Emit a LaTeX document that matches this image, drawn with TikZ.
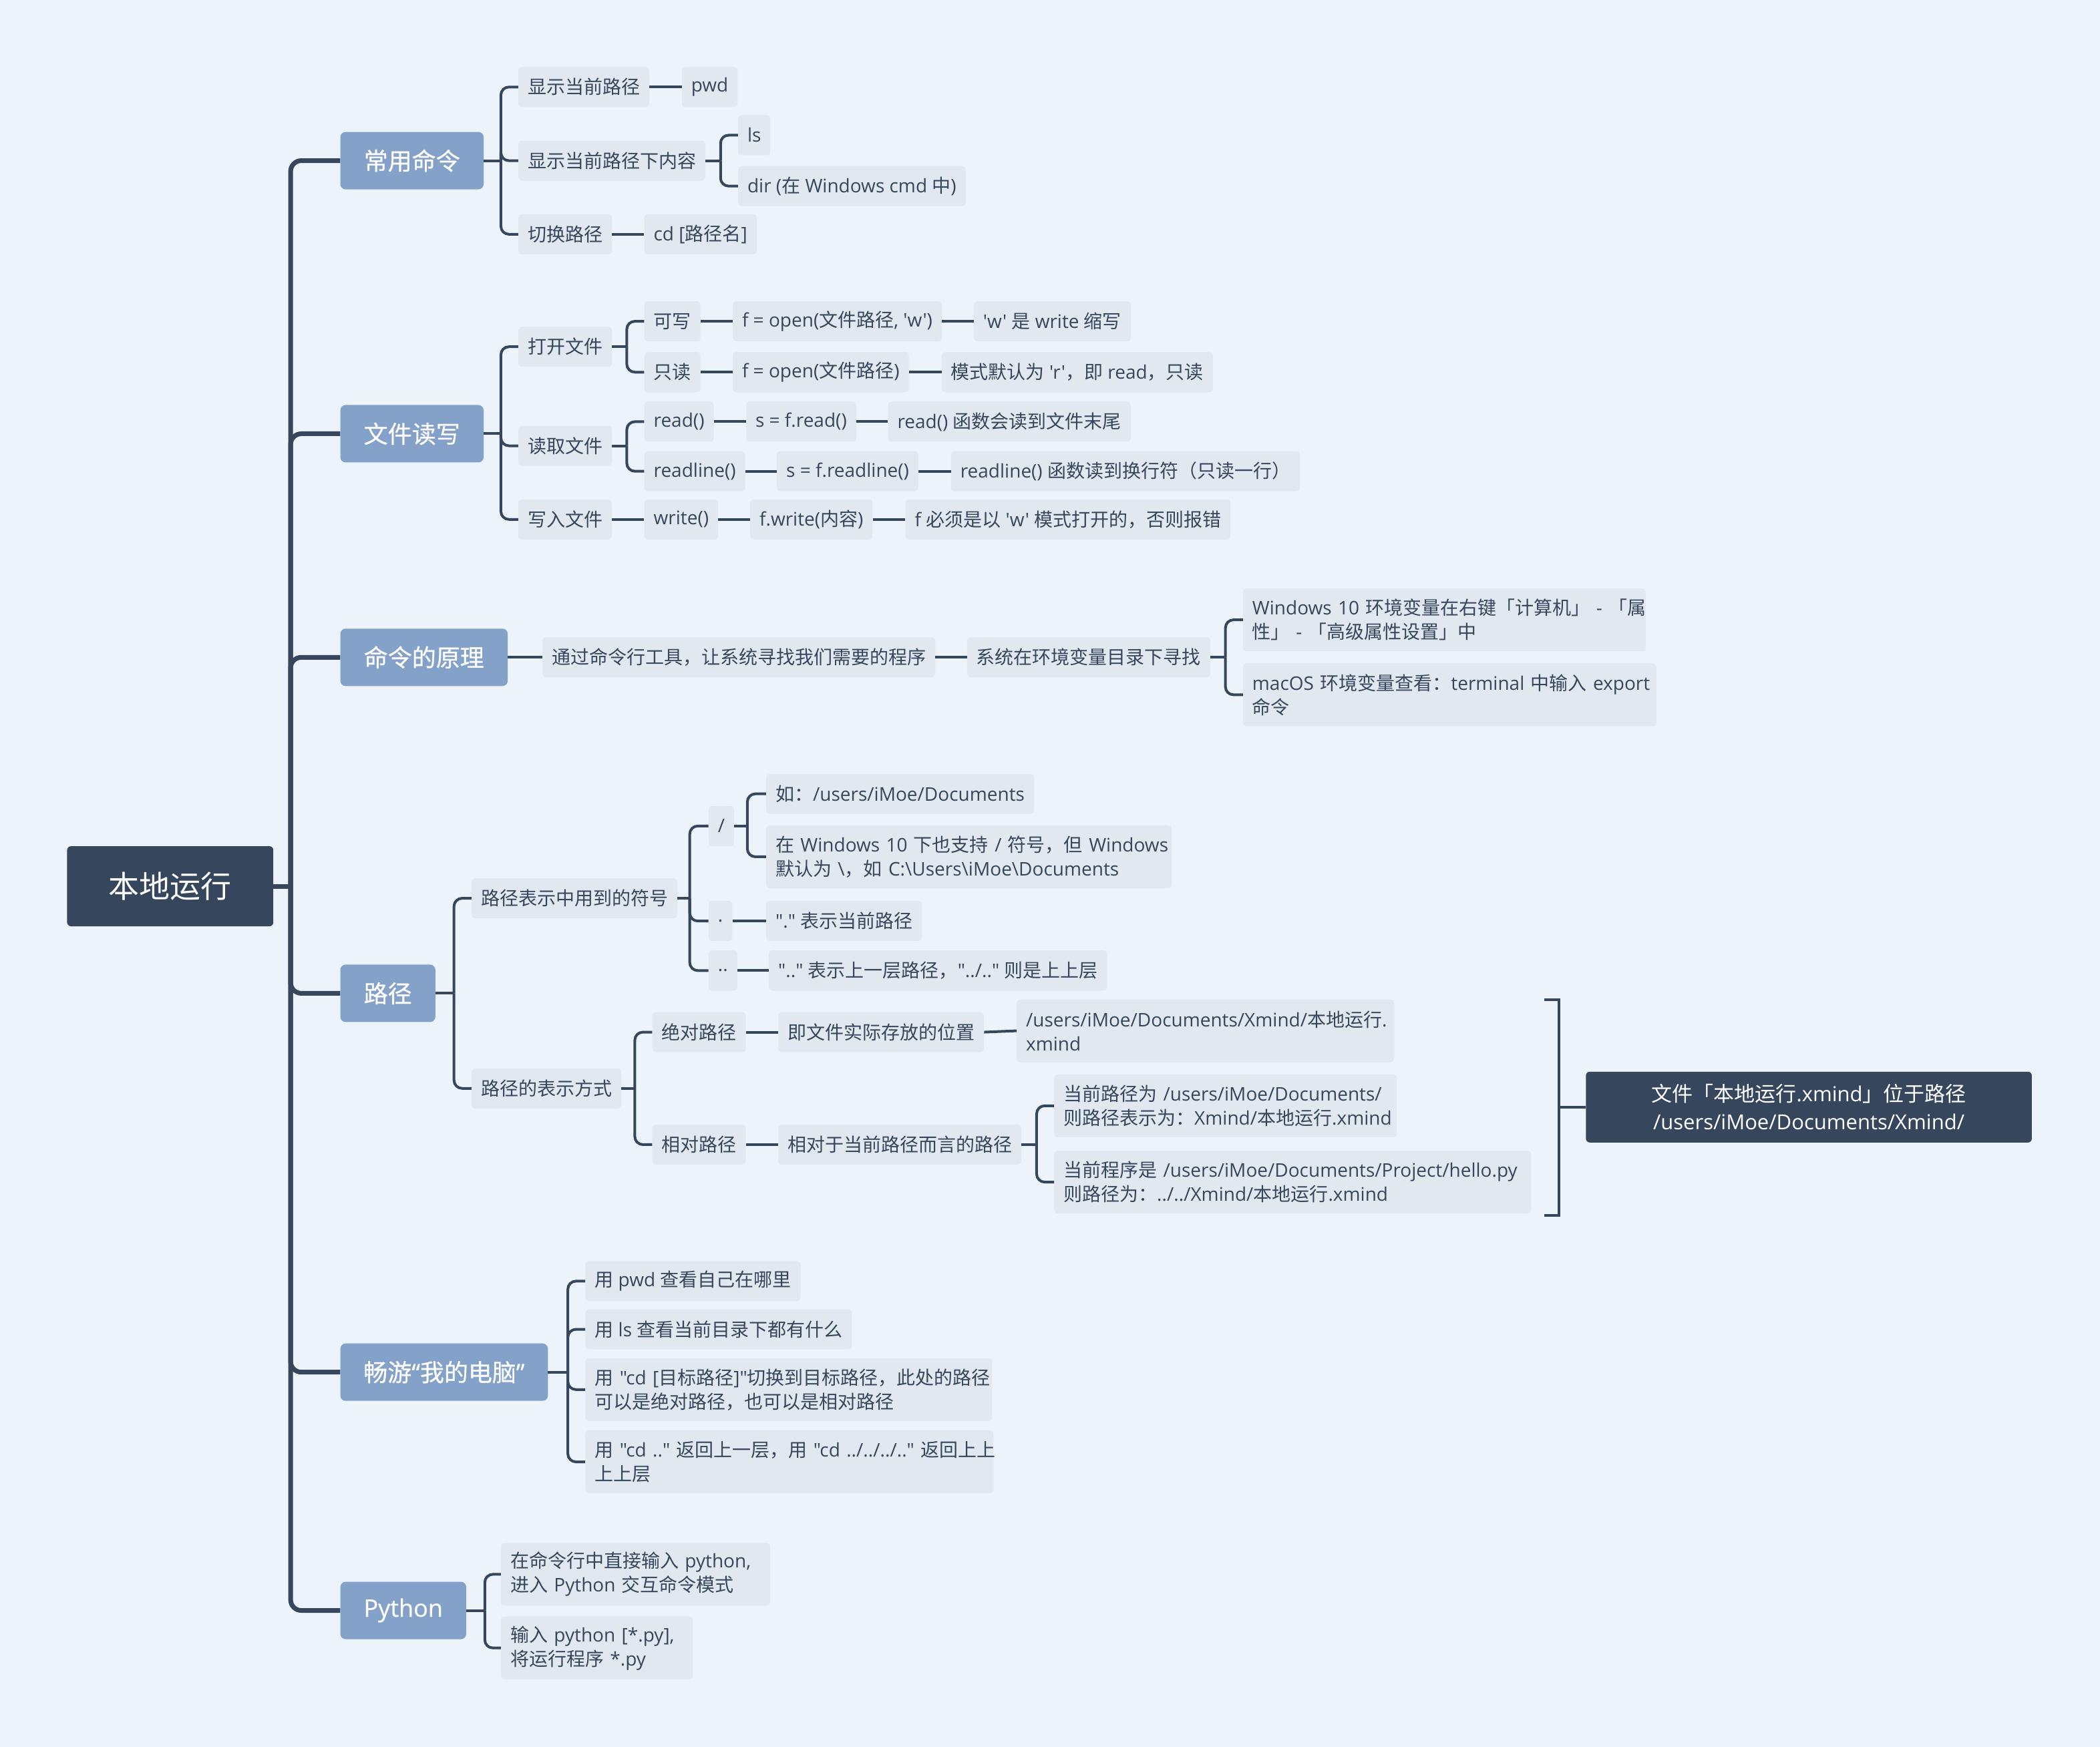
\documentclass[tikz,border=0pt]{standalone}
\usepackage{fontspec}
\newfontfamily\latR{Open Sans}
\newfontfamily\cjkR{Noto Sans CJK SC}
\newfontfamily\latB[FakeBold=0.5]{Open Sans}
\newfontfamily\cjkB[FakeBold=0.5]{Noto Sans CJK SC}
\def\tolat{\latR}
\def\tocjk{\cjkR}
% switch between the Latin and the CJK face automatically
\XeTeXinterchartokenstate=1
\newXeTeXintercharclass\cjkcls
\newcount\cjkcnt
\cjkcnt="3000
\loop\XeTeXcharclass\cjkcnt=\cjkcls
  \ifnum\cjkcnt<"9FFF \advance\cjkcnt by 1 \repeat
\cjkcnt="FF00
\loop\XeTeXcharclass\cjkcnt=\cjkcls
  \ifnum\cjkcnt<"FFEF \advance\cjkcnt by 1 \repeat
\XeTeXinterchartoks 0 \cjkcls = {\tocjk}
\XeTeXinterchartoks 4095 \cjkcls = {\tocjk}
\XeTeXinterchartoks \cjkcls 0 = {\tolat}
\XeTeXinterchartoks \cjkcls 4095 = {\tolat}
\definecolor{bg}{HTML}{ECF3FA}
\definecolor{ink}{HTML}{36465D}
\definecolor{leaf}{HTML}{E1E8F0}
\definecolor{topic}{HTML}{84A2C9}
% fan-out from a parent through a vertical bus to its children
\newcommand\branchfan[3]{%
  \draw[link] (#1.east) -- (#1.east -| #2);
  \foreach \c in {#3} \draw[link] (#1.east -| #2) |- (\c.west);}
\begin{document}
\begin{tikzpicture}[x=2.0051pt,y=-2.0046pt,
  bw/.style={minimum width=#1*2.0051pt},
  leafbox/.style={fill=leaf, rounded corners=5pt, text=ink,
    font=\def\tolat{\latR}\def\tocjk{\cjkR}\latR\fontsize{28}{36}\selectfont,
    minimum height=60pt, inner xsep=14pt, inner ysep=0pt, anchor=west},
  twoline/.style={leafbox, align=left, text width=#1, minimum height=94pt},
  topicbox/.style={fill=topic, rounded corners=8pt, text=white,
    font=\def\tolat{\latB}\def\tocjk{\cjkB}\latB\fontsize{36}{44}\selectfont,
    minimum height=86pt, inner sep=0pt, anchor=west},
  rootbox/.style={fill=ink, rounded corners=6pt, text=white,
    font=\def\tolat{\latR}\def\tocjk{\cjkR}\latR\fontsize{46}{54}\selectfont,
    minimum height=120pt, inner sep=0pt, anchor=west},
  sumbox/.style={fill=ink, rounded corners=6pt, text=white, align=center,
    font=\def\tolat{\latR}\def\tocjk{\cjkR}\latR\fontsize{31}{42}\selectfont,
    minimum height=106pt, inner sep=0pt, anchor=west},
  link/.style={draw=ink, line width=4pt, rounded corners=12pt},
  trunkline/.style={draw=ink, line width=7pt, rounded corners=16pt},
]
\fill[bg] (0,0) rectangle (1568,1305);
\useasboundingbox (0,0) rectangle (1568,1305);

% root and main topics
\node[rootbox, bw=154] (root) at (50,662) {本地运行};
\node[topicbox, bw=107] (m1) at (254,120) {常用命令};
\node[topicbox, bw=107] (m2) at (254,324) {文件读写};
\node[topicbox, bw=125] (m3) at (254,491) {命令的原理};
\node[topicbox, bw=71]  (m4) at (254,742) {路径};
\node[topicbox, bw=155] (m5) at (254,1025) {畅游“我的电脑”};
\node[topicbox, bw=94]  (m6) at (254,1203) {Python};

% bus positions
\coordinate (T) at (217,0);
\coordinate (B1) at (374,0);
\coordinate (B1b) at (538,0);
\coordinate (B2) at (374,0);
\coordinate (B2a) at (468,0);
\coordinate (B3) at (915,0);
\coordinate (B4) at (339,0);
\coordinate (B4a) at (515,0);
\coordinate (B4b) at (558,0);
\coordinate (B4c) at (474,0);
\coordinate (B4d) at (774,0);
\coordinate (B5) at (424,0);
\coordinate (B6) at (362,0);

% common commands
\node[leafbox, bw=95]  (a1)  at (387,65)  {显示当前路径};
\node[leafbox, bw=39]  (a1a) at (509,65)  {pwd};
\node[leafbox, bw=137] (a2)  at (387,120) {显示当前路径下内容};
\node[leafbox, bw=22]  (a2a) at (551,101) {ls};
\node[leafbox, bw=167] (a2b) at (551,139) {dir (在 Windows cmd 中)};
\node[leafbox, bw=68]  (a3)  at (387,175) {切换路径};
\node[leafbox, bw=81]  (a3a) at (481,175) {cd [路径名]};

% file reading and writing
\node[leafbox, bw=68]  (c1)   at (387,259) {打开文件};
\node[leafbox, bw=40]  (c1a)  at (481,240) {可写};
\node[leafbox, bw=153] (c1a1) at (547,240) {f = open(文件路径, 'w')};
\node[leafbox, bw=113] (c1a2) at (727,240) {'w' 是 write 缩写};
\node[leafbox, bw=40]  (c1b)  at (481,278) {只读};
\node[leafbox, bw=130] (c1b1) at (547,278) {f = open(文件路径)};
\node[leafbox, bw=199] (c1b2) at (703,278) {模式默认为 'r'，即 read，只读};
\node[leafbox, bw=68]  (c2)   at (387,333) {读取文件};
\node[leafbox, bw=49]  (c2a)  at (481,315) {read()};
\node[leafbox, bw=80]  (c2a1) at (557,315) {s = f.read()};
\node[leafbox, bw=179] (c2a2) at (663,315) {read() 函数会读到文件末尾};
\node[leafbox, bw=74]  (c2b)  at (481,352) {readline()};
\node[leafbox, bw=104] (c2b1) at (580,352) {s = f.readline()};
\node[leafbox, bw=258] (c2b2) at (710,352) {readline() 函数读到换行符（只读一行）};
\node[leafbox, bw=68]  (c3)   at (387,388) {写入文件};
\node[leafbox, bw=53]  (c3a)  at (481,388) {write()};
\node[leafbox, bw=89]  (c3b)  at (560,388) {f.write(内容)};
\node[leafbox, bw=239] (c3c)  at (676,388) {f 必须是以 'w' 模式打开的，否则报错};

% how commands work
\node[leafbox, bw=291] (d1) at (405,491) {通过命令行工具，让系统寻找我们需要的程序};
\node[leafbox, bw=179] (d2) at (722,491) {系统在环境变量目录下寻找};
\node[twoline=575pt] (d3) at (928,463) {\mbox{Windows 10 环境变量在右键「计算机」 - 「属}\\\mbox{性」 - 「高级属性设置」中}};
\node[twoline=591pt] (d4) at (928,519) {\mbox{macOS 环境变量查看：terminal 中输入 export}\\\mbox{命令}};

% paths
\node[leafbox, bw=150] (e1)   at (352,671) {路径表示中用到的符号};
\node[leafbox, bw=17]  (e1a)  at (529,617) {/};
\node[leafbox, bw=197] (e1a1) at (572,593) {如：/users/iMoe/Documents};
\node[twoline=579pt]   (e1a2) at (572,640) {\mbox{在 Windows 10 下也支持 / 符号，但 Windows}\\\mbox{默认为 \textbackslash{}，如 C:\textbackslash{}Users\textbackslash{}iMoe\textbackslash{}Documents}};
\node[leafbox, bw=17]  (e1b)  at (529,688) {.};
\node[leafbox, bw=112] (e1b1) at (572,688) {"." 表示当前路径};
\node[leafbox, bw=19]  (e1c)  at (529,725) {..};
\node[leafbox, bw=251] (e1c1) at (574,725) {".." 表示上一层路径，"../.." 则是上上层};
\node[leafbox, bw=108] (e2)   at (352,813) {路径的表示方式};
\node[leafbox, bw=68]  (e2a)  at (487,771) {绝对路径};
\node[leafbox, bw=152] (e2a1) at (581,771) {即文件实际存放的位置};
\node[twoline=537pt]   (e2a2) at (759,770) {\mbox{/users/iMoe/Documents/Xmind/本地运行.}\\\mbox{xmind}};
\node[leafbox, bw=68]  (e2b)  at (487,855) {相对路径};
\node[leafbox, bw=179] (e2b1) at (581,855) {相对于当前路径而言的路径};
\node[twoline=485pt]   (e2b2) at (787,826) {\mbox{当前路径为 /users/iMoe/Documents/}\\\mbox{则路径表示为：Xmind/本地运行.xmind}};
\node[twoline=686pt]   (e2b3) at (787,883) {\mbox{当前程序是 /users/iMoe/Documents/Project/hello.py}\\\mbox{则路径为：../../Xmind/本地运行.xmind}};
\node[sumbox, bw=333]  (sum)  at (1184,827) {文件「本地运行.xmind」位于路径\\/users/iMoe/Documents/Xmind/};

% touring the computer
\node[leafbox, bw=156] (f1) at (437,957)  {用 pwd 查看自己在哪里};
\node[leafbox, bw=195] (f2) at (437,993)  {用 ls 查看当前目录下都有什么};
\node[twoline=581pt]   (f3) at (437,1038) {\mbox{用 "cd [目标路径]"切换到目标路径，此处的路径}\\\mbox{可以是绝对路径，也可以是相对路径}};
\node[twoline=583pt]   (f4) at (437,1092) {\mbox{用 "cd .." 返回上一层，用 "cd ../../../.." 返回上上}\\\mbox{上上层}};

% python
\node[twoline=375pt] (g1) at (374,1176) {\mbox{在命令行中直接输入 python,}\\\mbox{进入 Python 交互命令模式}};
\node[twoline=259pt] (g2) at (374,1231) {\mbox{输入 python [*.py],}\\\mbox{将运行程序 *.py}};

% trunk
\draw[trunkline] (root.east) -- (root.east -| T);
\foreach \m in {m1,m2,m3,m4,m5,m6}
  \draw[trunkline] (root.east -| T) |- (\m.west);

% branch connectors
\branchfan{m1}{B1}{a1,a2,a3}
\draw[link] (a1.east) -- (a1a.west);
\branchfan{a2}{B1b}{a2a,a2b}
\draw[link] (a3.east) -- (a3a.west);

\branchfan{m2}{B2}{c1,c2,c3}
\branchfan{c1}{B2a}{c1a,c1b}
\draw[link] (c1a.east) -- (c1a1.west);
\draw[link] (c1a1.east) -- (c1a2.west);
\draw[link] (c1b.east) -- (c1b1.west);
\draw[link] (c1b1.east) -- (c1b2.west);
\branchfan{c2}{B2a}{c2a,c2b}
\draw[link] (c2a.east) -- (c2a1.west);
\draw[link] (c2a1.east) -- (c2a2.west);
\draw[link] (c2b.east) -- (c2b1.west);
\draw[link] (c2b1.east) -- (c2b2.west);
\draw[link] (c3.east) -- (c3a.west);
\draw[link] (c3a.east) -- (c3b.west);
\draw[link] (c3b.east) -- (c3c.west);

\draw[link] (m3.east) -- (d1.west);
\draw[link] (d1.east) -- (d2.west);
\branchfan{d2}{B3}{d3,d4}

\branchfan{m4}{B4}{e1,e2}
\branchfan{e1}{B4a}{e1a,e1b,e1c}
\branchfan{e1a}{B4b}{e1a1,e1a2}
\draw[link] (e1b.east) -- (e1b1.west);
\draw[link] (e1c.east) -- (e1c1.west);
\branchfan{e2}{B4c}{e2a,e2b}
\draw[link] (e2a.east) -- (e2a1.west);
\draw[link] (e2a1.east) -- (e2a2.west);
\draw[link] (e2b.east) -- (e2b1.west);
\branchfan{e2b1}{B4d}{e2b2,e2b3}

% summary bracket
\coordinate (brT) at (1153,747);
\coordinate (brB) at (1153,908);
\coordinate (brX) at (1164,0);
\draw[link, sharp corners] (brT) -- (brT -| brX) -- (brB -| brX) -- (brB);
\draw[link] (brX |- sum.west) -- (sum.west);

\branchfan{m5}{B5}{f1,f2,f3,f4}
\branchfan{m6}{B6}{g1,g2}
\end{tikzpicture}
\end{document}
